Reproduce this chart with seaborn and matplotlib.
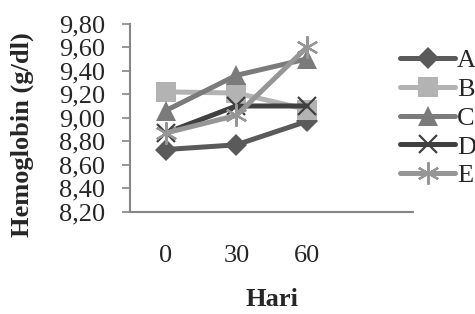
import pandas as pd
import seaborn as sns
import matplotlib.pyplot as plt
from matplotlib.ticker import FuncFormatter


# ======================================
# DATA
# ======================================

HARI = ["0", "30", "60"]

A = [8.73, 8.77, 8.97]
B = [9.22, 9.21, 9.07]
C = [9.06, 9.36, 9.50]
D = [8.87, 9.10, 9.10]
E = [8.87, 9.02, 9.60]

GROUPS = ["A", "B", "C", "D", "E"]

df = pd.DataFrame({
    "hari": HARI * 5,
    "pos": list(range(len(HARI))) * 5,
    "hb": A + B + C + D + E,
    "grp": [g for g in GROUPS for _ in HARI]
})


# ======================================
# STYLE
# ======================================

sns.set_style("white")
plt.rcParams["font.family"] = ["Liberation Serif", "DejaVu Serif"]

COLORS = {
    "A": "#5a5a5a",
    "B": "#b3b3b3",
    "C": "#7b7b7b",
    "D": "#404040",
    "E": "#969696"
}

MARKERS = {
    "A": "D",
    "B": "s",
    "C": "^",
    "D": "x",
    "E": (6, 2, 0)
}

SIZES = {"A": 11, "B": 14, "C": 14, "D": 13, "E": 16}


# ======================================
# CHART
# ======================================

fig = plt.figure(figsize=(4.75, 3.14), dpi=100)
ax = fig.add_axes([0.274, 0.325, 0.596, 0.6])

for g in GROUPS:
    sub = df[df["grp"] == g]
    sns.lineplot(
        x=sub["pos"],
        y=sub["hb"],
        color=COLORS[g],
        marker=MARKERS[g],
        markersize=SIZES[g],
        markeredgewidth=1.6 if g in ("D", "E") else 0,
        markeredgecolor=COLORS[g],
        linewidth=3.6,
        label=g,
        ax=ax
    )

ax.set_xlim(-0.5, 3.5)
ax.set_ylim(8.2, 9.8)
ax.set_xticks(range(len(HARI)))
ax.set_xticklabels(HARI)
ax.set_yticks([8.2 + 0.2 * i for i in range(9)])
ax.yaxis.set_major_formatter(
    FuncFormatter(lambda v, p: f"{v:.2f}".replace(".", ","))
)

for side in ["top", "right"]:
    ax.spines[side].set_visible(False)
for side in ["left", "bottom"]:
    ax.spines[side].set_color("#868686")
    ax.spines[side].set_linewidth(1.5)

ax.tick_params(axis="y", left=True, length=6, width=1.2,
               color="#868686", labelsize=19, pad=12)
ax.tick_params(axis="x", bottom=False, labelsize=19, pad=20)

ax.set_xlabel("Hari", fontsize=19, fontweight="bold")
ax.xaxis.set_label_coords(0.5, -0.405)
ax.set_ylabel("Hemoglobin (g/dl)", fontsize=19, fontweight="bold")
ax.yaxis.set_label_coords(-0.34, 0.41)

ax.legend(
    loc="upper left",
    bbox_to_anchor=(400 / 475, 1 - 49 / 314),
    bbox_transform=fig.transFigure,
    frameon=False,
    fontsize=19,
    handlelength=2.1,
    handletextpad=0.05,
    labelspacing=0.2,
    borderpad=0,
    borderaxespad=0
)

fig.savefig("out.png", dpi=100)
